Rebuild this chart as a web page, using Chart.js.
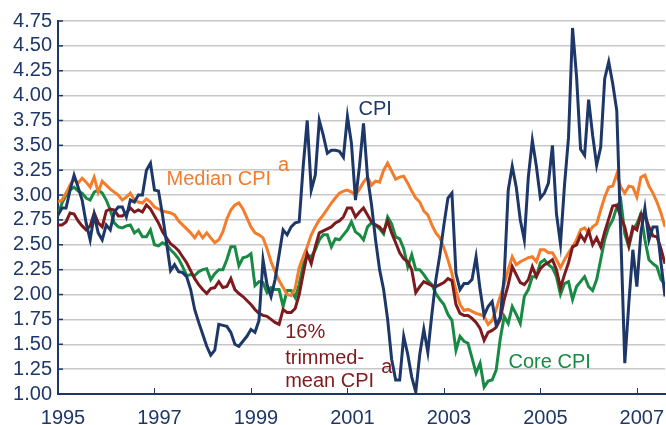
<!DOCTYPE html>
<html>
<head>
<meta charset="utf-8">
<script src="https://cdn.jsdelivr.net/npm/chart.js@4.4.1/dist/chart.umd.min.js"></script>
<style>
  html, body { margin: 0; padding: 0; background: #fff; overflow: hidden; }
  canvas { display: block; }
</style>
</head>
<body>
<canvas id="inflatie" width="666" height="440"></canvas>
<script>
// monthly, Jan 1995 .. Aug 2007 (152 points), percent
const startYear = 1995;
const yearTicks = [1995, 1997, 1999, 2001, 2003, 2005, 2007];

const cpi = [
  2.80, 2.87, 2.87, 3.05, 3.20, 3.08, 2.95, 2.72, 2.55, 2.80,
  2.62, 2.55, 2.70, 2.65, 2.83, 2.88, 2.88, 2.78, 2.95, 2.93,
  3.00, 3.00, 3.25, 3.32, 3.05, 3.04, 2.80, 2.52, 2.24, 2.30,
  2.23, 2.22, 2.18, 2.05, 1.85, 1.72, 1.60, 1.48, 1.39, 1.44,
  1.70, 1.69, 1.68, 1.62, 1.50, 1.48, 1.53, 1.58, 1.65, 1.62,
  1.74, 2.35, 2.10, 1.98, 2.15, 2.40, 2.65, 2.60, 2.68, 2.72,
  2.73, 3.29, 3.75, 3.05, 3.20, 3.75, 3.60, 3.42, 3.45, 3.45,
  3.44, 3.38, 3.79, 3.52, 2.95, 3.29, 3.72, 3.18, 2.90, 2.55,
  2.25, 2.05, 1.75, 1.35, 1.14, 1.14, 1.58, 1.40, 1.17, 1.02,
  1.40, 1.65, 1.42, 1.80, 2.15, 2.40, 2.70, 2.97, 3.02, 2.21,
  2.05, 2.11, 2.11, 2.15, 2.38, 2.05, 1.79, 1.88, 1.93, 1.69,
  1.77, 2.18, 3.05, 3.29, 3.08, 2.75, 2.55, 3.18, 3.55, 3.29,
  2.97, 3.02, 3.12, 3.50, 2.81, 2.51, 3.10, 3.58, 4.68, 4.19,
  3.46, 3.40, 3.96, 3.60, 3.30, 3.48, 4.17, 4.34, 4.12, 3.85,
  2.60, 1.31, 1.91, 2.45, 2.08, 2.62, 2.87, 2.55, 2.68, 2.68, 2.32, 1.98
];

const medianCpi = [
  2.93, 2.95, 3.02, 3.10, 3.16, 3.12, 3.17, 3.13, 3.08, 3.18,
  3.03, 3.14, 3.10, 3.06, 3.03, 3.00, 2.95, 2.98, 3.02, 2.95,
  2.93, 2.92, 2.96, 2.93, 2.88, 2.86, 2.84, 2.83, 2.82, 2.80,
  2.74, 2.70, 2.66, 2.62, 2.57, 2.63, 2.57, 2.62, 2.57, 2.52,
  2.55, 2.63, 2.76, 2.85, 2.90, 2.92, 2.86, 2.77, 2.68, 2.62,
  2.60, 2.57, 2.46, 2.33, 2.23, 2.14, 2.07, 2.00, 1.99, 2.06,
  2.27, 2.38, 2.48, 2.60, 2.68, 2.75, 2.80, 2.86, 2.92, 2.97,
  3.02, 3.04, 3.05, 3.03, 3.00, 3.06, 3.13, 3.18, 3.10, 3.14,
  3.13, 3.25, 3.32, 3.24, 3.16, 3.18, 3.19, 3.12, 3.04, 2.97,
  2.93, 2.84, 2.80, 2.70, 2.62, 2.57, 2.47, 2.35, 2.21, 2.04,
  1.90, 1.84, 1.85, 1.83, 1.81, 1.80, 1.78, 1.70, 1.74, 1.85,
  1.98, 2.10, 2.25, 2.38, 2.30, 2.33, 2.35, 2.37, 2.38, 2.33,
  2.45, 2.45, 2.42, 2.42, 2.35, 2.27, 2.35, 2.42, 2.48, 2.55,
  2.65, 2.67, 2.62, 2.68, 2.71, 2.85, 2.98, 3.08, 3.09, 3.21,
  3.08, 3.02, 3.09, 3.08, 2.98, 3.18, 3.20, 3.09, 3.02, 2.93, 2.82, 2.68
];

const trimmedMean = [
  2.70, 2.70, 2.73, 2.82, 2.81, 2.74, 2.69, 2.65, 2.69, 2.82,
  2.72, 2.68, 2.84, 2.86, 2.85, 2.79, 2.79, 2.82, 2.87, 2.83,
  2.85, 2.83, 2.90, 2.86, 2.79, 2.72, 2.63, 2.57, 2.51, 2.48,
  2.44, 2.38, 2.32, 2.24, 2.16, 2.10, 2.05, 2.01, 2.06, 2.07,
  2.13, 2.07, 2.08, 2.16, 2.05, 2.01, 1.98, 1.94, 1.90, 1.85,
  1.81, 1.79, 1.78, 1.75, 1.72, 1.70, 1.85, 1.82, 1.82, 1.86,
  2.00, 2.21, 2.41, 2.31, 2.48, 2.62, 2.64, 2.66, 2.68, 2.72,
  2.74, 2.78, 2.87, 2.87, 2.78, 2.83, 2.87, 2.80, 2.73, 2.70,
  2.68, 2.63, 2.74, 2.62, 2.52, 2.42, 2.36, 2.33, 2.25, 2.02,
  2.08, 2.13, 2.11, 2.09, 2.08, 2.10, 2.12, 2.16, 2.14, 1.90,
  1.81, 1.79, 1.79, 1.76, 1.72, 1.66, 1.54, 1.62, 1.64, 1.67,
  1.75, 1.95, 2.10, 2.28, 2.20, 2.12, 2.10, 2.15, 2.28, 2.18,
  2.26, 2.30, 2.32, 2.35, 2.25, 2.07, 2.20, 2.32, 2.48, 2.50,
  2.60, 2.54, 2.64, 2.50, 2.57, 2.48, 2.63, 2.76, 2.89, 2.90,
  2.78, 2.68, 2.50, 2.68, 2.65, 2.81, 2.80, 2.68, 2.59, 2.58, 2.46, 2.31
];

const coreCpi = [
  2.80, 2.92, 3.00, 3.05, 3.08, 3.04, 3.02, 2.97, 2.95, 3.03,
  3.05, 3.02, 2.95, 2.85, 2.72, 2.68, 2.67, 2.69, 2.70, 2.62,
  2.65, 2.58, 2.58, 2.65, 2.50, 2.49, 2.52, 2.50, 2.45, 2.41,
  2.36, 2.28, 2.19, 2.20, 2.19, 2.23, 2.25, 2.26, 2.15, 2.21,
  2.25, 2.25, 2.35, 2.48, 2.48, 2.29, 2.37, 2.38, 2.41, 2.09,
  2.13, 2.12, 2.02, 2.07, 2.05, 2.05, 1.88, 2.04, 2.04, 1.97,
  2.10, 2.30, 2.40, 2.38, 2.45, 2.55, 2.60, 2.60, 2.48, 2.56,
  2.55, 2.60, 2.65, 2.73, 2.63, 2.60, 2.55, 2.68, 2.72, 2.70,
  2.66, 2.61, 2.78, 2.71, 2.58, 2.56, 2.46, 2.28, 2.40, 2.25,
  2.25, 2.20, 2.14, 2.10, 2.01, 1.95, 1.90, 1.80, 1.74, 1.44,
  1.58, 1.53, 1.51, 1.36, 1.21, 1.31, 1.07, 1.13, 1.14, 1.24,
  1.55, 1.78, 1.71, 1.88, 1.80, 1.71, 1.98, 2.05, 2.18, 2.18,
  2.32, 2.35, 2.30, 2.27, 2.18, 2.00, 2.11, 2.13, 1.95, 2.08,
  2.13, 2.18, 2.08, 2.04, 2.15, 2.35, 2.55, 2.68, 2.75, 2.88,
  2.95, 2.61, 2.48, 2.65, 2.71, 2.81, 2.55, 2.35, 2.31, 2.28, 2.15, 2.10
];

const navy = '#1d3768';
const orange = '#f47c2b';
const darkRed = '#7d1a1d';
const green = '#198a43';
const fontFamily = '"Liberation Sans", Arial, Helvetica, sans-serif';

// text labels in the plot, placed in data units (year, percent)
const notes = [
  { text: 'CPI', year: 2001.23, value: 3.805, color: navy },
  { text: 'Median CPI', sup: 'a', year: 1997.25, value: 3.10, color: orange },
  { text: '16%', year: 1999.71, value: 1.56, color: darkRed },
  { text: 'trimmed-', year: 1999.71, value: 1.30, color: darkRed },
  { text: 'mean CPI', sup: 'a', year: 1999.71, value: 1.07, color: darkRed },
  { text: 'Core CPI', year: 2004.34, value: 1.26, color: green }
];

const toMonth = yr => (yr - startYear) * 12;
const points = arr => arr.map((v, i) => ({ x: i, y: v }));

const line = (label, data, color) => ({
  label,
  data: points(data),
  borderColor: color,
  backgroundColor: color,
  borderWidth: 3,
  pointRadius: 0,
  tension: 0,
  fill: false
});

const extras = {
  id: 'extras',
  beforeDatasetsDraw(chart) {
    // short inward ticks on both axes
    const { ctx, chartArea } = chart;
    const x = chart.scales.x;
    const y = chart.scales.y;
    ctx.save();
    ctx.strokeStyle = navy;
    ctx.lineWidth = 1;
    yearTicks.forEach(yr => {
      const px = Math.round(x.getPixelForValue(toMonth(yr))) + 0.5;
      ctx.beginPath();
      ctx.moveTo(px, chartArea.bottom);
      ctx.lineTo(px, chartArea.bottom - 6);
      ctx.stroke();
    });
    ctx.lineWidth = 1.5;
    y.ticks.forEach(t => {
      const py = y.getPixelForValue(t.value);
      ctx.beginPath();
      ctx.moveTo(chartArea.left, py);
      ctx.lineTo(chartArea.left + 5, py);
      ctx.stroke();
    });
    ctx.restore();
  },
  afterDatasetsDraw(chart) {
    const { ctx } = chart;
    const x = chart.scales.x;
    const y = chart.scales.y;
    ctx.save();
    ctx.font = '20px ' + fontFamily;
    ctx.textBaseline = 'alphabetic';
    ctx.textAlign = 'left';
    notes.forEach(n => {
      const px = x.getPixelForValue(toMonth(n.year));
      const py = y.getPixelForValue(n.value);
      ctx.fillStyle = n.color;
      ctx.fillText(n.text, px, py);
      if (n.sup) ctx.fillText(n.sup, px + ctx.measureText(n.text).width + 7, py - 14);
    });
    ctx.restore();
  }
};

new Chart(document.getElementById('inflatie'), {
  type: 'line',
  data: {
    datasets: [
      line('CPI', cpi, navy),
      line('16% trimmed-mean CPI', trimmedMean, darkRed),
      line('Median CPI', medianCpi, orange),
      line('Core CPI', coreCpi, green)
    ]
  },
  options: {
    responsive: false,
    animation: false,
    devicePixelRatio: 1,
    layout: { padding: { top: 21, right: 1, left: 0, bottom: 0 } },
    plugins: { legend: { display: false }, tooltip: { enabled: false } },
    scales: {
      x: {
        type: 'linear',
        min: 0,
        max: cpi.length - 1,
        grid: { drawOnChartArea: false, drawTicks: false },
        border: { color: navy, width: 2 },
        ticks: {
          stepSize: 24,
          includeBounds: false,
          autoSkip: false,
          maxRotation: 0,
          padding: 12,
          labelOffset: 5,
          color: navy,
          font: { size: 20, family: fontFamily },
          callback: v => (v % 24 === 0 ? String(startYear + v / 12) : '')
        },
        afterFit: s => { s.height = 46; s.paddingLeft = 0; s.paddingRight = 0; }
      },
      y: {
        min: 1,
        max: 4.75,
        grid: { color: '#c8c8c8', lineWidth: 1.5, drawTicks: false },
        border: { color: navy, width: 2 },
        ticks: {
          stepSize: 0.25,
          autoSkip: false,
          padding: 6,
          color: navy,
          font: { size: 20, family: fontFamily },
          callback: v => v.toFixed(2)
        },
        afterFit: s => { s.width = 58; }
      }
    }
  },
  plugins: [extras]
});
</script>
</body>
</html>
